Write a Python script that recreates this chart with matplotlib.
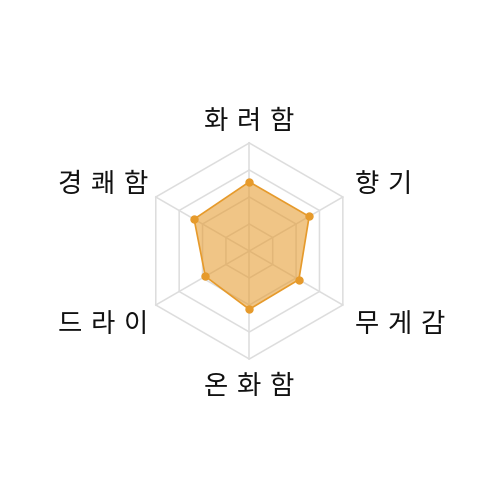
import numpy as np
import matplotlib
matplotlib.use('Agg')
import matplotlib.pyplot as plt

plt.rcParams['font.family'] = ['Noto Sans CJK KR', 'DejaVu Sans']

# Datos del radar
categorias = ['화려함', '향기', '무게감', '온화함', '드라이', '경쾌함']
valores = [64, 64, 53, 54, 47, 59]
max_valor = 100
niveles = [25, 50, 75, 100]

color = '#E69A2B'
n = len(categorias)
# primer eje arriba, sentido horario
angulos = np.pi / 2 - 2 * np.pi * np.arange(n) / n

fig = plt.figure(figsize=(5, 5), dpi=100)
ax = fig.add_axes([0, 0, 1, 1])
escala = 1.08  # px por unidad
ax.set_xlim(-249.3 / escala, (500 - 249.3) / escala)
ax.set_ylim(-249 / escala, 251 / escala)
ax.set_aspect('equal')
ax.axis('off')

# Rejilla hexagonal
for nv in niveles:
    xs = nv * np.cos(angulos)
    ys = nv * np.sin(angulos)
    ax.plot(np.append(xs, xs[0]), np.append(ys, ys[0]), color='#dddddd', lw=1.1, zorder=1)
for a in angulos:
    ax.plot([0, max_valor * np.cos(a)], [0, max_valor * np.sin(a)], color='#dddddd', lw=1.1, zorder=1)

# Serie
v = np.array(valores)
xs = v * np.cos(angulos)
ys = v * np.sin(angulos)
ax.fill(xs, ys, color=color, alpha=0.57, lw=0, zorder=2)
ax.plot(np.append(xs, xs[0]), np.append(ys, ys[0]), color=color, lw=1.2, zorder=3)
ax.plot(xs, ys, 'o', color=color, ms=5, zorder=4)

# Etiquetas
for cat, a in zip(categorias, angulos):
    c = np.cos(a)
    s = np.sin(a)
    r = 112
    x = r * c
    y = r * s
    if abs(c) < 0.1:
        ha = 'center'
        y = y + (7.5 if s > 0 else -13.6)
    elif c > 0:
        ha = 'left'
        x = x + 1
        y = y + (5.5 if s > 0 else -12.5)
    else:
        ha = 'right'
        x = x + 3
        y = y + (5.5 if s > 0 else -12.5)
    ax.text(x, y, '\u2004'.join(cat), ha=ha, va='center', fontsize=19, color='#111111',
            fontweight='medium', family=['Noto Sans CJK KR', 'DejaVu Sans'])

plt.savefig('out.png', dpi=100)
